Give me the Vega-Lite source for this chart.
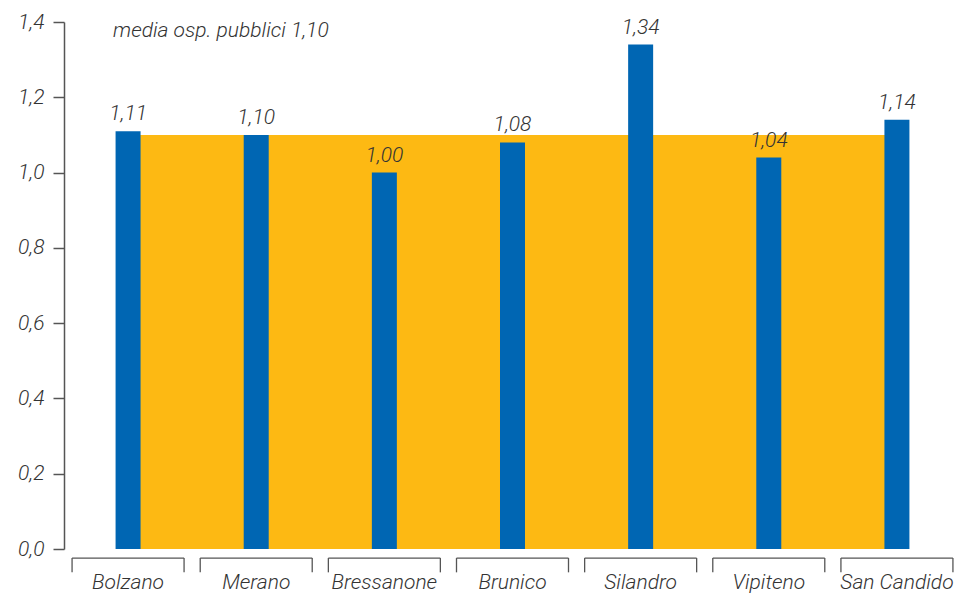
{
  "$schema": "https://vega.github.io/schema/vega-lite/v6.json",
  "autosize": "none",
  "width": 897,
  "height": 527,
  "padding": {"left": 64, "top": 22, "right": -4, "bottom": 45},
  "background": "white",
  "config": {
    "view": {"stroke": null},
    "locale": {"number": {"decimal": ",", "thousands": ".", "grouping": [3], "currency": ["", " €"]}},
    "font": "Roboto",
    "axis": {"labelFont": "Roboto", "labelFontSize": 21, "labelFontStyle": "italic", "labelFontWeight": 300, "labelColor": "#333333", "grid": false, "title": null}
  },
  "data": {
    "values": [
      {"ospedale": "Bolzano", "valore": 1.11, "media": 1.10},
      {"ospedale": "Merano", "valore": 1.10, "media": 1.10},
      {"ospedale": "Bressanone", "valore": 1.00, "media": 1.10},
      {"ospedale": "Brunico", "valore": 1.08, "media": 1.10},
      {"ospedale": "Silandro", "valore": 1.34, "media": 1.10},
      {"ospedale": "Vipiteno", "valore": 1.04, "media": 1.10},
      {"ospedale": "San Candido", "valore": 1.14, "media": 1.10}
    ]
  },
  "encoding": {
    "x": {"field": "ospedale", "type": "nominal", "sort": null, "title": null,
      "scale": {"paddingInner": 0, "paddingOuter": 0},
      "axis": {"domain": false, "ticks": false, "labelAngle": 0, "labelPadding": 22}}
  },
  "layer": [
    {
      "mark": {"type": "area", "color": "#FDB913"},
      "encoding": {
        "y": {"field": "media", "type": "quantitative", "title": null, "scale": {"domain": [0, 1.4], "nice": false},
          "axis": {"values": [0, 0.2, 0.4, 0.6, 0.8, 1.0, 1.2, 1.4], "format": ".1f",
            "domainColor": "#555555", "domainWidth": 1.5, "tickColor": "#555555", "tickWidth": 1.5, "tickSize": 11,
            "labelPadding": 9}}
      }
    },
    {
      "mark": {"type": "bar", "size": 25, "color": "#0066B3"},
      "encoding": {
        "y": {"field": "valore", "type": "quantitative", "title": null, "scale": {"domain": [0, 1.4], "nice": false}}
      }
    },
    {
      "mark": {"type": "text", "baseline": "bottom", "dy": -7, "fontSize": 21, "fontStyle": "italic", "fontWeight": 300, "color": "#333333"},
      "encoding": {
        "y": {"field": "valore", "type": "quantitative", "title": null, "scale": {"domain": [0, 1.4], "nice": false}},
        "text": {"field": "valore", "type": "quantitative", "format": ".2f"}
      }
    },
    {
      "mark": {"type": "rule", "color": "#555555", "strokeWidth": 1.3, "xOffset": -56, "x2Offset": 56},
      "encoding": {
        "x2": {"field": "ospedale"},
        "y": {"datum": -0.024, "type": "quantitative", "title": null, "scale": {"domain": [0, 1.4], "nice": false}}
      }
    },
    {
      "mark": {"type": "rule", "color": "#555555", "strokeWidth": 1.3, "xOffset": -56},
      "encoding": {
        "y": {"datum": -0.024, "type": "quantitative", "title": null, "scale": {"domain": [0, 1.4], "nice": false}},
        "y2": {"datum": -0.062}
      }
    },
    {
      "mark": {"type": "rule", "color": "#555555", "strokeWidth": 1.3, "xOffset": 56},
      "encoding": {
        "y": {"datum": -0.024, "type": "quantitative", "title": null, "scale": {"domain": [0, 1.4], "nice": false}},
        "y2": {"datum": -0.062}
      }
    },
    {
      "data": {"values": [{"ospedale": "Bolzano", "etichetta": "media osp. pubblici 1,10", "pos": 1.376}]},
      "mark": {"type": "text", "align": "left", "baseline": "middle", "xOffset": -15, "fontSize": 21, "fontStyle": "italic", "fontWeight": 300, "color": "#333333"},
      "encoding": {
        "y": {"field": "pos", "type": "quantitative", "title": null, "scale": {"domain": [0, 1.4], "nice": false}},
        "text": {"field": "etichetta"}
      }
    }
  ]
}
